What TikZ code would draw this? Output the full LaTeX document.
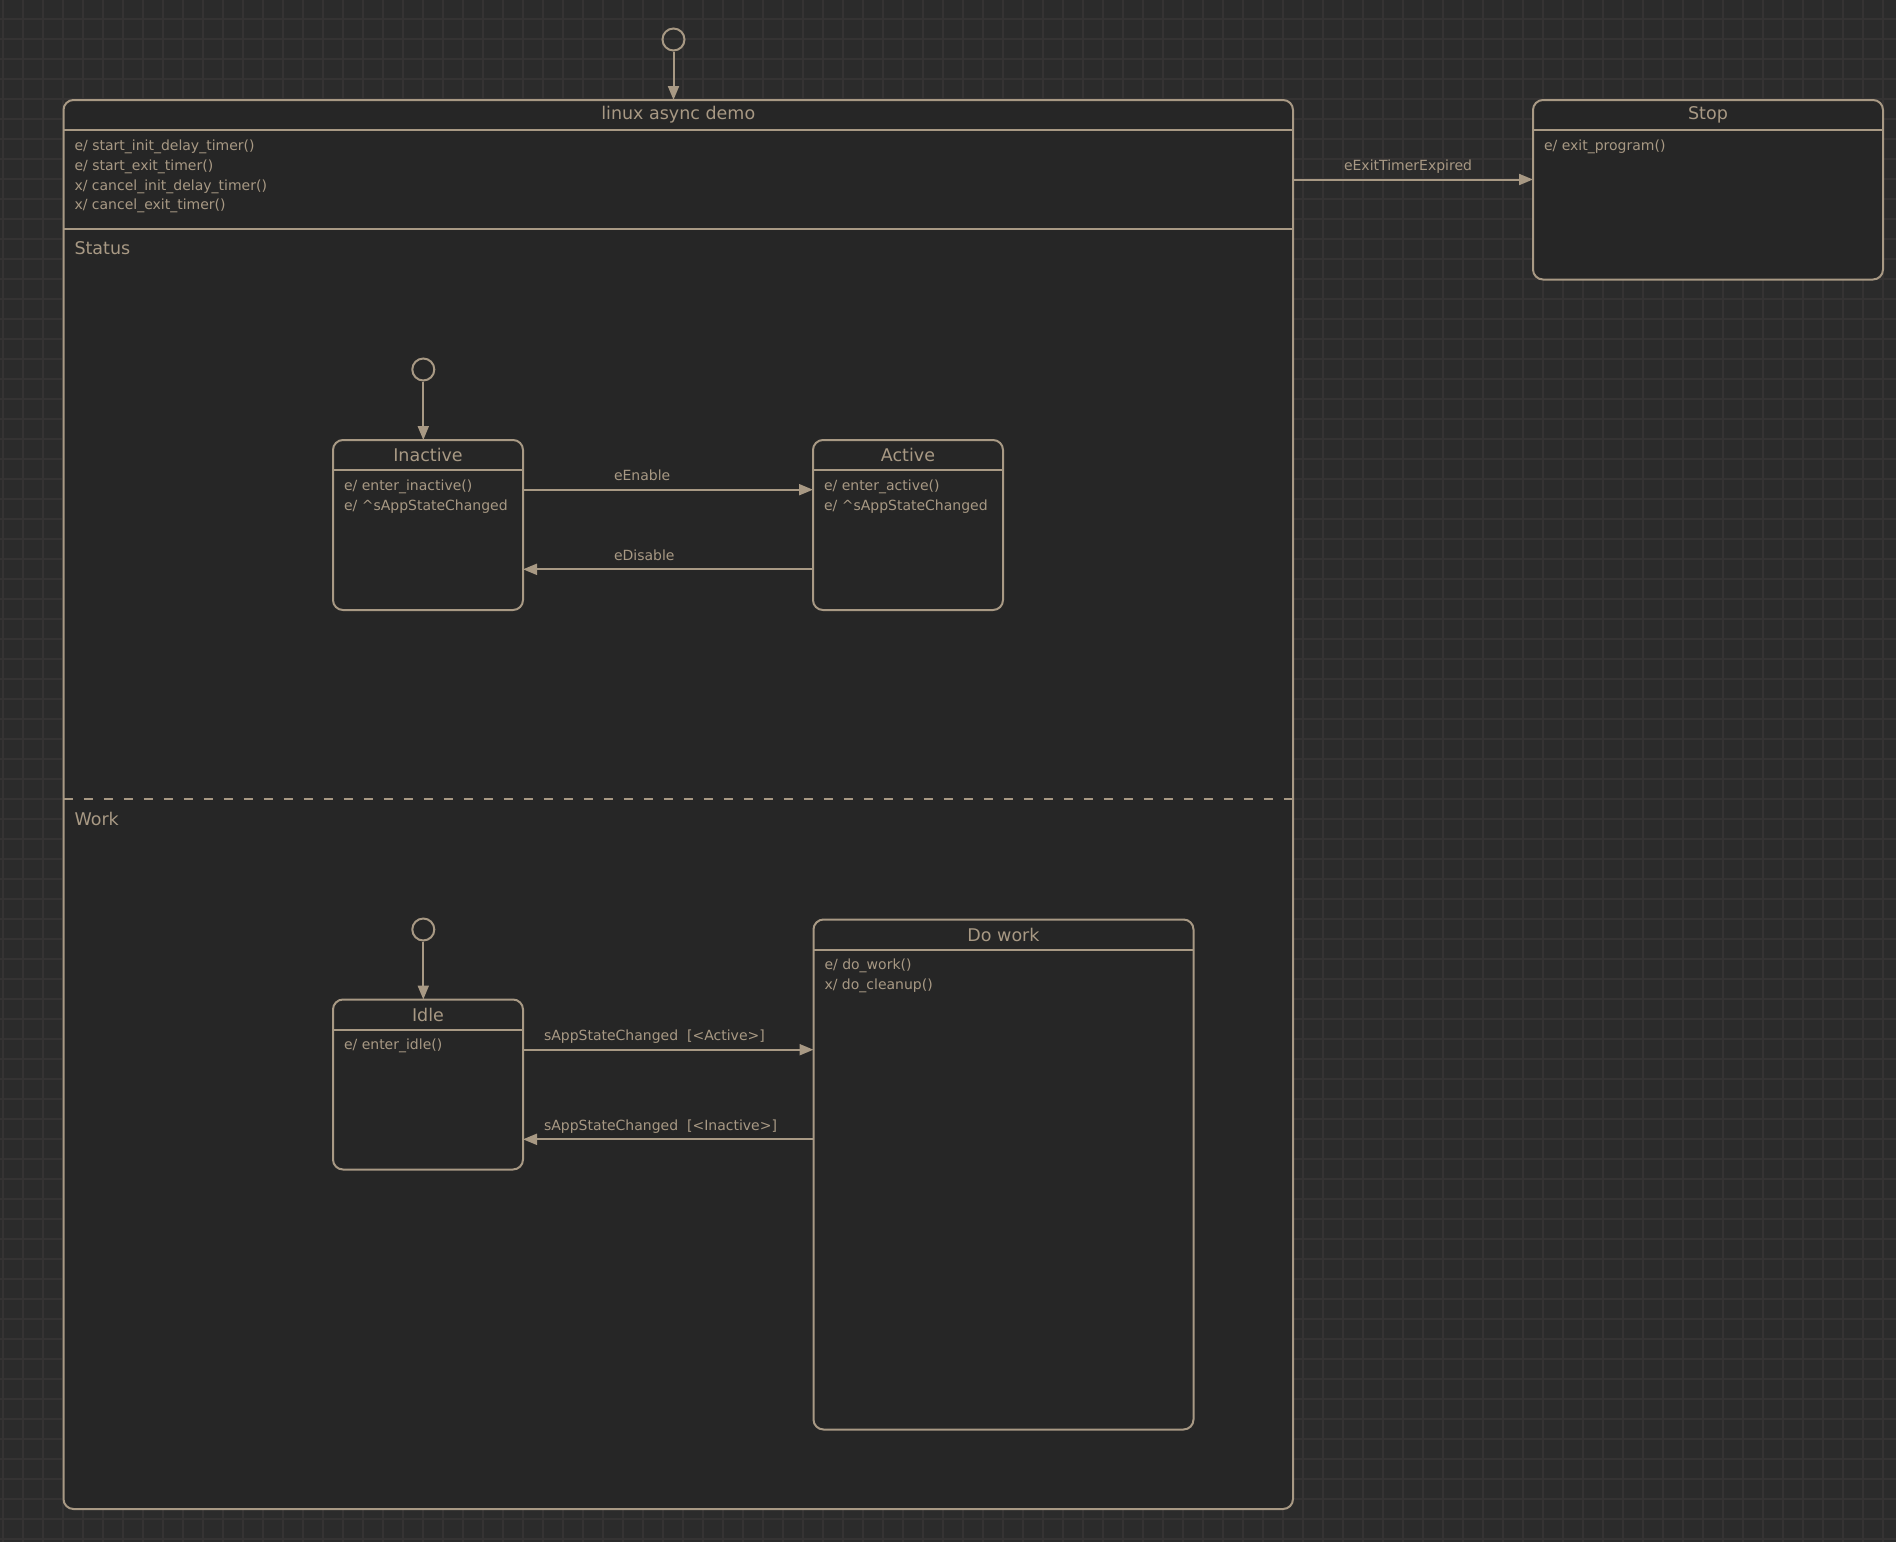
\documentclass[tikz,border=0pt]{standalone}
\usepackage{fontspec}
\setmainfont{DejaVu Sans}
\usetikzlibrary{arrows.meta}

\definecolor{bgc}{HTML}{2B2B2B}
\definecolor{gridc}{HTML}{353333}
\definecolor{boxc}{HTML}{262626}
\definecolor{linec}{HTML}{A89984}
\definecolor{textc}{HTML}{A89984}

\begin{document}
\begin{tikzpicture}[x=1pt, y=-1pt, line width=2pt,
  state/.style={draw=linec, fill=boxc, rounded corners=10pt, anchor=north west, inner sep=0pt, outer sep=0pt},
  edge/.style={draw=linec},
  title/.style={text=textc, inner sep=0pt, font=\fontsize{17.5}{20}\selectfont},
  region/.style={text=textc, inner sep=0pt, anchor=base west, font=\fontsize{17.5}{20}\selectfont},
  body/.style={text=textc, inner sep=0pt, anchor=north west, align=left, font=\fontsize{14}{19.8}\selectfont},
  lbl/.style={text=textc, inner sep=0pt, anchor=base west, yshift=9pt, font=\fontsize{14}{16}\selectfont},
  initial/.style={circle, draw=linec, minimum size=22pt, inner sep=0pt},
  trans/.style={draw=linec, -{Triangle[length=14pt, width=11pt]}},
  gridline/.style={draw=gridc, line width=1.2pt}]
  \useasboundingbox (0,0) rectangle (1896,1542);
  \fill[bgc] (0,0) rectangle (1896,1542);
  \foreach \gx in {3,23,...,1883} \draw[gridline] (\gx,0) -- (\gx,1542);
  \foreach \gy in {19,39,...,1539} \draw[gridline] (0,\gy) -- (1896,\gy);

  % linux async demo
  \node[state, minimum width=1229.5pt, minimum height=1409pt] (demo) at (63.5,100) {};
  \draw[edge] ([yshift=-30pt]demo.north west) -- ([yshift=-30pt]demo.north east);
  \draw[edge] ([yshift=-129pt]demo.north west) -- ([yshift=-129pt]demo.north east);
  \node[title] (demo-t) at ([yshift=-15pt]demo.north) {linux async demo};
  \node[body] (demo-b) at ([xshift=10pt, yshift=-38.8pt]demo.north west)
    {e/ start\_init\_delay\_timer()\\ e/ start\_exit\_timer()\\ x/ cancel\_init\_delay\_timer()\\ x/ cancel\_exit\_timer()};
  \node[initial] (init0) at (673.5,39.5) {};
  \draw[trans] (init0) -- (init0 |- demo.north);

  % Stop
  \node[state, minimum width=350pt, minimum height=179.5pt] (stop) at (1533,100) {};
  \draw[edge] ([yshift=-30pt]stop.north west) -- ([yshift=-30pt]stop.north east);
  \node[title] (stop-t) at ([yshift=-15pt]stop.north) {Stop};
  \node[body] (stop-b) at ([xshift=10pt, yshift=-38.8pt]stop.north west) {e/ exit\_program()};
  \coordinate (x1) at ([yshift=-79.5pt]demo.north east);
  \draw[trans] (x1) -- (x1 -| stop.west) node[lbl, pos=0, xshift=50pt] (x1-l) {eExitTimerExpired};

  % region Status
  \node[region] (status) at (73.5,254.9) {Status};
  \node[initial] (init1) at (423.3,369.5) {};
  \node[state, minimum width=190pt, minimum height=170pt] (inactive) at (333,440) {};
  \draw[edge] ([yshift=-30pt]inactive.north west) -- ([yshift=-30pt]inactive.north east);
  \node[title] (inactive-t) at ([yshift=-15pt]inactive.north) {Inactive};
  \node[body] (inactive-b) at ([xshift=10pt, yshift=-38.8pt]inactive.north west)
    {e/ enter\_inactive()\\ e/ \textasciicircum sAppStateChanged};
  \node[state, minimum width=190pt, minimum height=170pt] (active) at (813,440) {};
  \draw[edge] ([yshift=-30pt]active.north west) -- ([yshift=-30pt]active.north east);
  \node[title] (active-t) at ([yshift=-15pt]active.north) {Active};
  \node[body] (active-b) at ([xshift=10pt, yshift=-38.8pt]active.north west)
    {e/ enter\_active()\\ e/ \textasciicircum sAppStateChanged};
  \draw[trans] (init1) -- (init1 |- inactive.north);
  \coordinate (s1) at ([yshift=-49.7pt]inactive.north east);
  \draw[trans] (s1) -- (s1 -| active.west) node[lbl, pos=0, xshift=90pt] (s1-l) {eEnable};
  \coordinate (s2) at ([yshift=-129.3pt]active.north west);
  \draw[trans] (s2) -- (s2 -| inactive.east) node[lbl, pos=1, xshift=90pt] (s2-l) {eDisable};

  % region Work
  \draw[edge, dash pattern=on 9.5pt off 10.5pt] ([yshift=-699.3pt]demo.north west) -- ([yshift=-699.3pt]demo.north east);
  \node[region] (work) at (73.5,825.6) {Work};
  \node[initial] (init2) at (423.3,929.5) {};
  \node[state, minimum width=190pt, minimum height=170pt] (idle) at (333,999.5) {};
  \draw[edge] ([yshift=-30pt]idle.north west) -- ([yshift=-30pt]idle.north east);
  \node[title] (idle-t) at ([yshift=-15pt]idle.north) {Idle};
  \node[body] (idle-b) at ([xshift=10pt, yshift=-38.8pt]idle.north west) {e/ enter\_idle()};
  \node[state, minimum width=380pt, minimum height=510pt] (dowork) at (813.5,919.5) {};
  \draw[edge] ([yshift=-30pt]dowork.north west) -- ([yshift=-30pt]dowork.north east);
  \node[title] (dowork-t) at ([yshift=-15pt]dowork.north) {Do work};
  \node[body] (dowork-b) at ([xshift=10pt, yshift=-38.8pt]dowork.north west)
    {e/ do\_work()\\ x/ do\_cleanup()};
  \draw[trans] (init2) -- (init2 |- idle.north);
  \coordinate (w1) at ([yshift=-50.2pt]idle.north east);
  \draw[trans] (w1) -- (w1 -| dowork.west) node[lbl, pos=0, xshift=20pt] (w1-l) {sAppStateChanged\ \ [<Active>]};
  \coordinate (w2) at ([yshift=-139.8pt]idle.north east);
  \draw[trans] (w2 -| dowork.west) -- (w2) node[lbl, pos=1, xshift=20pt] (w2-l) {sAppStateChanged\ \ [<Inactive>]};
\end{tikzpicture}
\end{document}
